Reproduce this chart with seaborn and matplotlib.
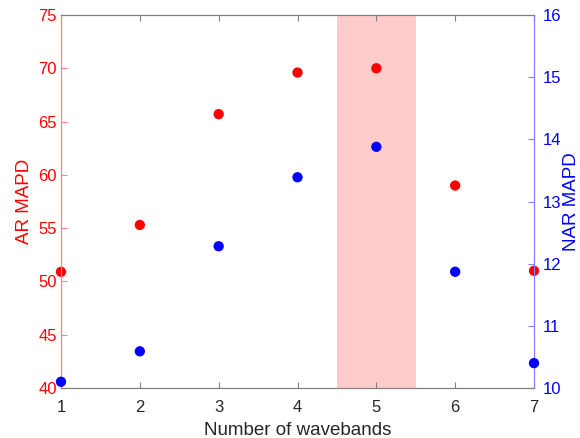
import matplotlib
matplotlib.use("Agg")
import matplotlib.pyplot as plt
import seaborn as sns
import pandas as pd

wavebands = [1, 2, 3, 4, 5, 6, 7]
ar_mapd = [50.9, 55.3, 65.7, 69.6, 70.0, 59.0, 51.0]
nar_mapd = [10.10, 10.59, 12.28, 13.39, 13.88, 11.87, 10.40]

sns.set_style("white")
plt.rcParams['font.family'] = ['Liberation Sans', 'DejaVu Sans']

df = pd.DataFrame({"n": wavebands, "ar": ar_mapd, "nar": nar_mapd})

fig = plt.figure(figsize=(5.8, 4.38), dpi=100)
ax = fig.add_axes([61/580, 1 - 388/438, (534 - 61)/580, (388 - 15)/438])
ax2 = ax.twinx()

ax.axvspan(4.5, 5.5, color='#ffcccc', lw=0, zorder=0)

sns.scatterplot(data=df, x="n", y="ar", ax=ax, color='#ff0000', s=55,
                edgecolor='none', clip_on=False, zorder=3)
sns.scatterplot(data=df, x="n", y="nar", ax=ax2, color='#0000ff', s=55,
                edgecolor='none', clip_on=False, zorder=3)

ax.set_xlim(1, 7)
ax.set_ylim(40, 75)
ax2.set_ylim(10, 16)
ax.set_xticks(wavebands)
ax.set_yticks([40, 45, 50, 55, 60, 65, 70, 75])
ax2.set_yticks([10, 11, 12, 13, 14, 15, 16])

ax.set_xlabel("Number of wavebands", fontsize=13.5, color='#262626', labelpad=5)
ax.set_ylabel("AR MAPD", fontsize=13.5, color='#ff0000', labelpad=4)
ax2.set_ylabel("NAR MAPD", fontsize=13.5, color='#0000ff', labelpad=1.5)

for a in (ax, ax2):
    for sp in a.spines.values():
        sp.set_linewidth(0.8)
    a.spines['top'].set_color('#808080')
    a.spines['bottom'].set_color('#808080')
    a.spines['left'].set_color('#ff8080')
    a.spines['right'].set_color('#8080ff')

ax.tick_params(axis='x', direction='in', length=4, width=0.8, colors='#808080',
               labelcolor='#262626', labelsize=12, top=True, bottom=True, pad=9)
ax.tick_params(axis='y', direction='in', length=4, width=0.8, colors='#ff8080',
               labelcolor='#ff0000', labelsize=12, left=True, right=False, pad=3)
ax2.tick_params(axis='y', direction='in', length=4, width=0.8, colors='#8080ff',
                labelcolor='#0000ff', labelsize=12, right=True, pad=6)

ax.set_zorder(ax2.get_zorder() - 1)
ax2.patch.set_visible(False)
ax.patch.set_visible(True)

fig.savefig("out.png", dpi=100)
